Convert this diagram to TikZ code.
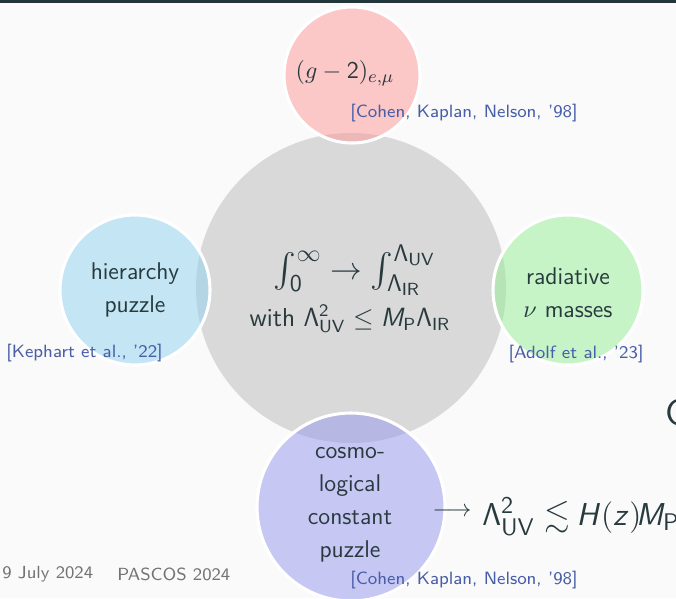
\documentclass[tikz,border=0pt]{standalone}
\usepackage{amsmath,amssymb}
\DeclareMathAlphabet{\mathsfit}{OT1}{cmss}{m}{sl}
\newcommand\LUV{\mathsf{\Lambda}_{\mathsf{UV}}}
\newcommand\LIR{\mathsf{\Lambda}_{\mathsf{IR}}}
\newcommand\MPl{\mathsfit{M}_{\mathsf{P}}}
\definecolor{bgc}{RGB}{250,250,250}
\definecolor{barc}{RGB}{35,55,59}
\definecolor{txt}{RGB}{40,58,62}
\definecolor{citc}{RGB}{72,94,168}
\definecolor{footc}{RGB}{115,115,115}
\definecolor{grayc}{RGB}{217,217,217}
\definecolor{redc}{RGB}{254,150,150}
\definecolor{bluec}{RGB}{142,210,240}
\definecolor{greenc}{RGB}{150,240,150}
\definecolor{purpc}{RGB}{150,150,240}
\tikzset{
  bubble/.style={circle, draw=white, line width=1.4pt, fill opacity=0.5, inner sep=0pt},
  lbl/.style={text=txt, inner sep=0pt, align=center, font=\sffamily\fontsize{11}{15}\selectfont},
  cit/.style={text=citc, inner sep=0pt, font=\sffamily\fontsize{8.1}{10}\selectfont},
  foot/.style={text=footc, inner sep=0pt, anchor=west, font=\sffamily\fontsize{8}{10}\selectfont},
}
\begin{document}
\begin{tikzpicture}[x=0.45507pt,y=-0.45507pt]
\useasboundingbox (0,0) rectangle (676,598);
\clip (0,0) rectangle (676,598);
\fill[bgc] (0,0) rectangle (676,598);
\fill[barc] (0,0) rectangle (676,3.5);
% central circle
\node[circle, fill=grayc, inner sep=0pt, minimum size={310*0.45507pt}] (core) at (351,288) {};
% surrounding bubbles
\node[bubble, fill=redc, minimum size={136*0.45507pt}] (gm2) at (352,75) {};
\node[bubble, fill=bluec, minimum size={150*0.45507pt}] (hier) at (135,290) {};
\node[bubble, fill=greenc, minimum size={150*0.45507pt}] (nu) at (568,290) {};
\node[bubble, fill=purpc, minimum size={188*0.45507pt}] (cc) at (351,507) {};
% texts
\node[lbl, font=\sffamily\fontsize{10.8}{13}\selectfont] (gm2t) at (345,73) {$(g-\mathsf{2})_{e,\mu}$};
\node[cit] (cit1) at (464,113) {[Cohen, Kaplan, Nelson, '98]};
\node[lbl] (hiert) at (135,290) {hierarchy\\puzzle};
\node[cit, anchor=west] (cit2) at (6,353) {[Kephart et al., '22]};
\node[lbl] (nut) at (568,293) {radiative\\$\nu$ masses};
\node[cit, anchor=east] (cit3) at (644,354) {[Adolf et al., '23]};
\node[lbl, font=\sffamily\fontsize{15.5}{18}\selectfont] (f1) at (355,270) {$\int_{\mathsf{0}}^{\infty}\rightarrow\int_{\LIR}^{\LUV}$};
\node[lbl, font=\sffamily\fontsize{11.8}{14}\selectfont] (f2) at (350,319) {with $\mathsf{\Lambda}^{\mathsf{2}}_{\mathsf{UV}}\leq\MPl\LIR$};
\node[lbl] (cct) at (350,505) {cosmo-\\logical\\constant\\puzzle};
\node[cit] (cit4) at (464,580) {[Cohen, Kaplan, Nelson, '98]};
\node[lbl, font=\fontsize{11.2}{13}\selectfont] (arr) at (452,512) {$\longrightarrow$};
\node[lbl, anchor=base west, font=\sffamily\fontsize{15}{18}\selectfont] (bound) at (482,525) {$\mathsf{\Lambda}^{\mathsf{2}}_{\mathsf{UV}}\lesssim\mkern-1mu\mathsfit{H}(\mathsfit{z})\mkern-3mu\MPl$};
\node[lbl, anchor=base west, font=\sffamily\fontsize{17}{20}\selectfont] (cut) at (665,425) {C};
\node[foot] (date) at (2,574) {9 July 2024};
\node[foot] (conf) at (117,574) {PASCOS 2024};
\end{tikzpicture}
\end{document}
